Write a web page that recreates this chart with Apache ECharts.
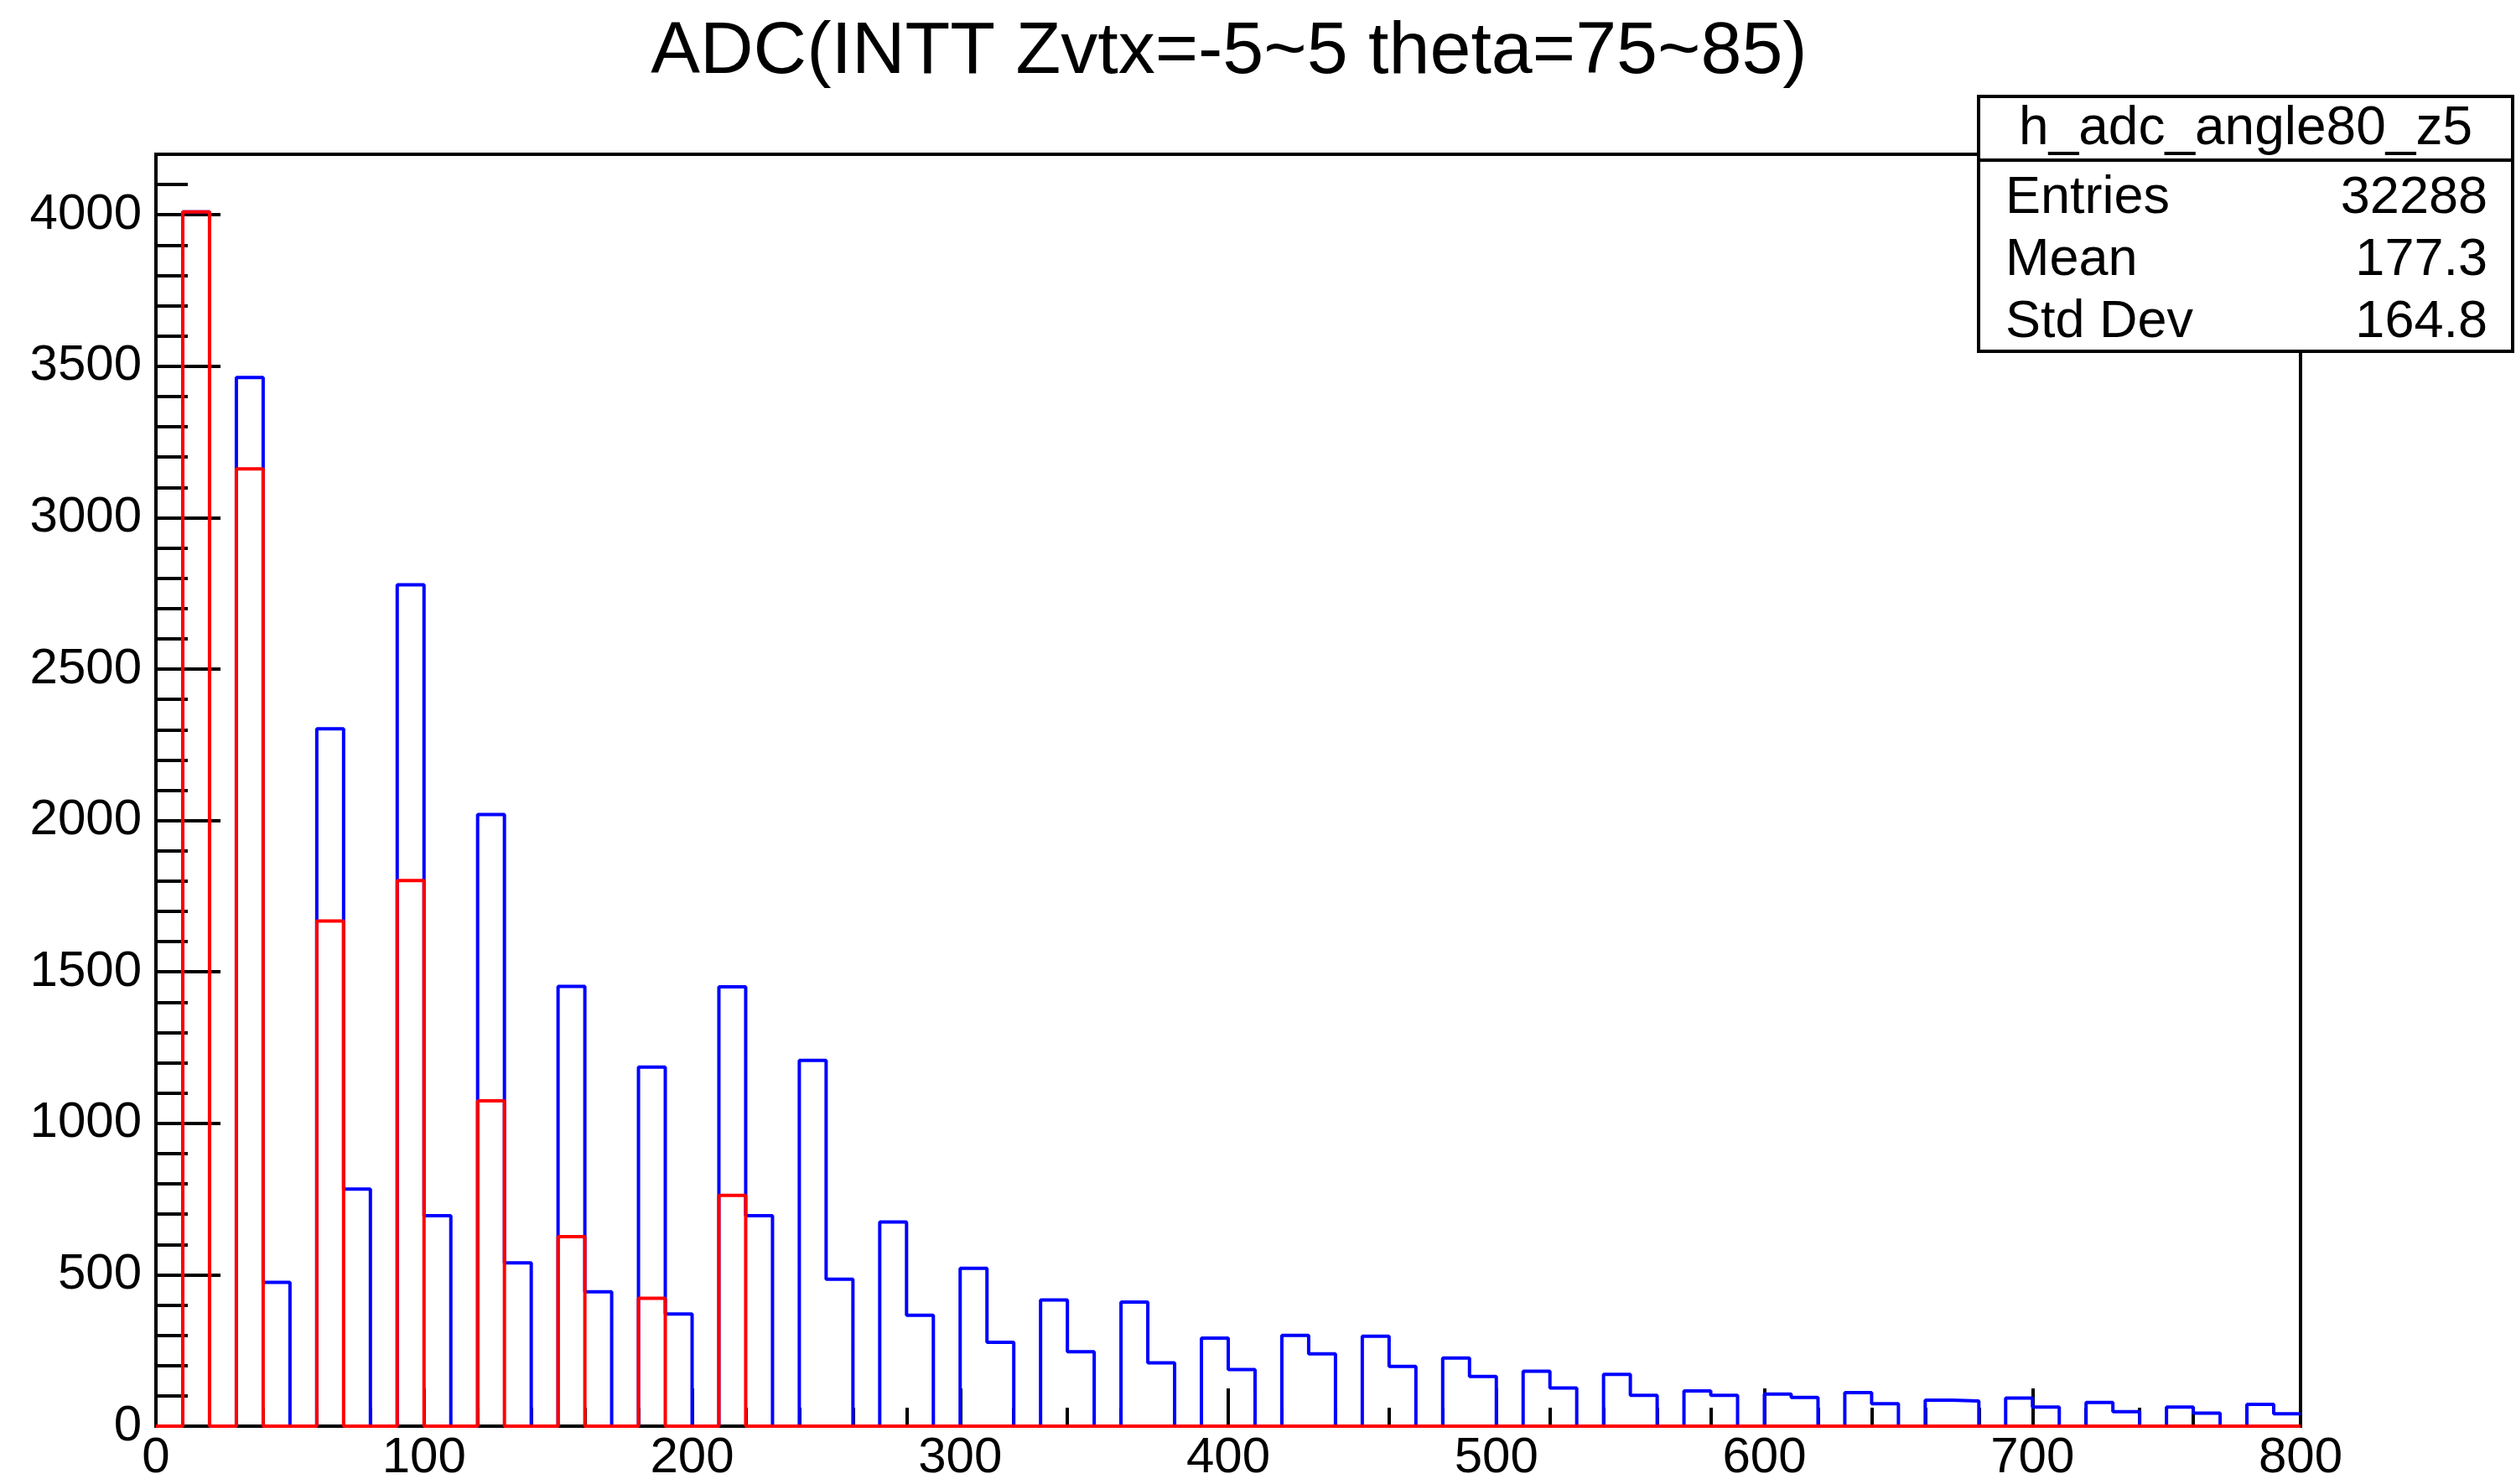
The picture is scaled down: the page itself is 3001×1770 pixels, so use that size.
<!DOCTYPE html>
<html>
<head>
<meta charset="utf-8">
<script src="https://cdn.jsdelivr.net/npm/echarts@6/dist/echarts.min.js"></script>
<style>
html,body{margin:0;padding:0;background:#fff;}
#chart{width:3001px;height:1770px;}
</style>
</head>
<body>
<div id="chart"></div>
<script>
// ---- data ----
const TITLE = 'ADC(INTT Zvtx=-5~5 theta=75~85)';
const BIN_WIDTH = 10;
const X_MIN = 0, X_MAX = 800;
const Y_MIN = 0, Y_MAX = 4200;
const xTickLabels = [0, 100, 200, 300, 400, 500, 600, 700, 800];
const yTickLabels = [0, 500, 1000, 1500, 2000, 2500, 3000, 3500, 4000];
// blue histogram (all hits), 80 bins of width 10
const blueCounts = [
  0, 4010, 0,  3463, 475, 0,  2303, 783, 0,  2778, 695, 0,
  2020, 539, 0,  1452, 444, 0,  1186, 370, 0,  1451, 695, 0,
  1208, 485, 0,  674, 366, 0,  521, 277, 0,  417, 246, 0,
  410, 209, 0,  291, 187, 0,  300, 239, 0,  297, 197, 0,
  225, 164, 0,  181, 126, 0,  171, 102, 0,  116, 102, 0,
  106, 95, 0,  111, 74, 0,  86, 83, 0,  93, 63, 0,
  78, 48, 0,  63, 43, 0,  72, 41
];
// red histogram
const redCounts = [
  0, 4010, 0,  3161, 0, 0,  1668, 0, 0,  1802, 0, 0,
  1074, 0, 0,  626, 0, 0,  422, 0, 0,  762, 0, 0,
  0, 0, 0,  0, 0, 0,  0, 0, 0,  0, 0, 0,
  0, 0, 0,  0, 0, 0,  0, 0, 0,  0, 0, 0,
  0, 0, 0,  0, 0, 0,  0, 0, 0,  0, 0, 0,
  0, 0, 0,  0, 0, 0,  0, 0, 0,  0, 0, 0,
  0, 0, 0,  0, 0, 0,  0, 0
];
const statsName = 'h_adc_angle80_z5';
const statsLabels = ['Entries', 'Mean', 'Std Dev'];
const statsValues = ['32288', '177.3', '164.8'];

// ---- build step outlines from bins ----
function stepPoints(counts) {
  const pts = counts.map((v, i) => [X_MIN + i * BIN_WIDTH, v]);
  pts.push([X_MIN + counts.length * BIN_WIDTH, counts[counts.length - 1]]);
  return pts;
}

const FONT = '"Liberation Sans", Arial, Helvetica, sans-serif';
const chart = echarts.init(document.getElementById('chart'), null, {renderer: 'canvas'});

const G = {left: 186, right: 257, top: 184, bottom: 69};
const boxX = 2360, boxY = 115, boxW = 637, boxH = 304, headH = 76;
const LW = 4;

chart.setOption({
  animation: false,
  backgroundColor: '#ffffff',
  grid: {left: G.left, right: G.right, top: G.top, bottom: G.bottom, show: true,
         borderColor: '#000', borderWidth: LW, backgroundColor: 'transparent'},
  xAxis: [{
    type: 'value', min: X_MIN, max: X_MAX, interval: 100,
    axisLine: {show: true, onZero: false, lineStyle: {color: '#000', width: LW}},
    axisTick: {show: true, inside: true, length: 45, lineStyle: {color: '#000', width: LW}},
    minorTick: {show: true, splitNumber: 5, length: 22, lineStyle: {color: '#000', width: LW}},
    splitLine: {show: false}, minorSplitLine: {show: false},
    axisLabel: {show: true, customValues: xTickLabels, fontSize: 60, color: '#000', fontFamily: FONT, margin: 8,
                formatter: v => String(v)}
  }],
  yAxis: [{
    type: 'value', min: Y_MIN, max: Y_MAX, interval: 500, position: 'left',
    axisLine: {show: true, onZero: false, lineStyle: {color: '#000', width: LW}},
    axisTick: {show: true, inside: true, length: 77, customValues: yTickLabels, lineStyle: {color: '#000', width: LW}},
    splitLine: {show: false},
    axisLabel: {show: true, customValues: yTickLabels, fontSize: 60, color: '#000', fontFamily: FONT, margin: 17,
                formatter: v => String(v)}
  }, {
    type: 'value', min: Y_MIN, max: Y_MAX, interval: 100, position: 'left', offset: 0,
    axisLine: {show: false},
    axisTick: {show: true, inside: true, length: 38, lineStyle: {color: '#000', width: LW}},
    splitLine: {show: false},
    axisLabel: {show: false}
  }],
  series: [{
    name: 'blue', type: 'line', step: 'end', data: stepPoints(blueCounts),
    showSymbol: false, symbol: 'none', clip: false, z: 3,
    lineStyle: {color: '#0000ff', width: LW}
  }, {
    name: 'red', type: 'line', step: 'end', data: stepPoints(redCounts),
    showSymbol: false, symbol: 'none', clip: false, z: 4,
    lineStyle: {color: '#ff0000', width: LW}
  }],
  graphic: [
    {type: 'text', x: 1466, y: 63, z: 10,
     style: {text: TITLE, fontSize: 88, fontFamily: FONT, fill: '#000', align: 'center', verticalAlign: 'middle'}},
    {type: 'rect', z: 20, shape: {x: boxX, y: boxY, width: boxW, height: boxH},
     style: {fill: '#fff', stroke: '#000', lineWidth: LW}},
    {type: 'line', z: 21, shape: {x1: boxX, y1: boxY + headH, x2: boxX + boxW, y2: boxY + headH},
     style: {stroke: '#000', lineWidth: LW}},
    {type: 'text', z: 22, x: boxX + boxW / 2, y: boxY + headH / 2 + 1,
     style: {text: statsName, fontSize: 64, fontFamily: FONT, fill: '#000', align: 'center', verticalAlign: 'middle'}}
  ].concat(statsLabels.map((lab, i) => ({
     type: 'text', z: 22, x: boxX + 32, y: 237 + i * 74,
     style: {text: lab, fontSize: 63, fontFamily: FONT, fill: '#000', align: 'left', verticalAlign: 'middle'}
  }))).concat(statsValues.map((val, i) => ({
     type: 'text', z: 22, x: boxX + boxW - 30, y: 237 + i * 74,
     style: {text: val, fontSize: 63, fontFamily: FONT, fill: '#000', align: 'right', verticalAlign: 'middle'}
  })))
});
</script>
</body>
</html>
